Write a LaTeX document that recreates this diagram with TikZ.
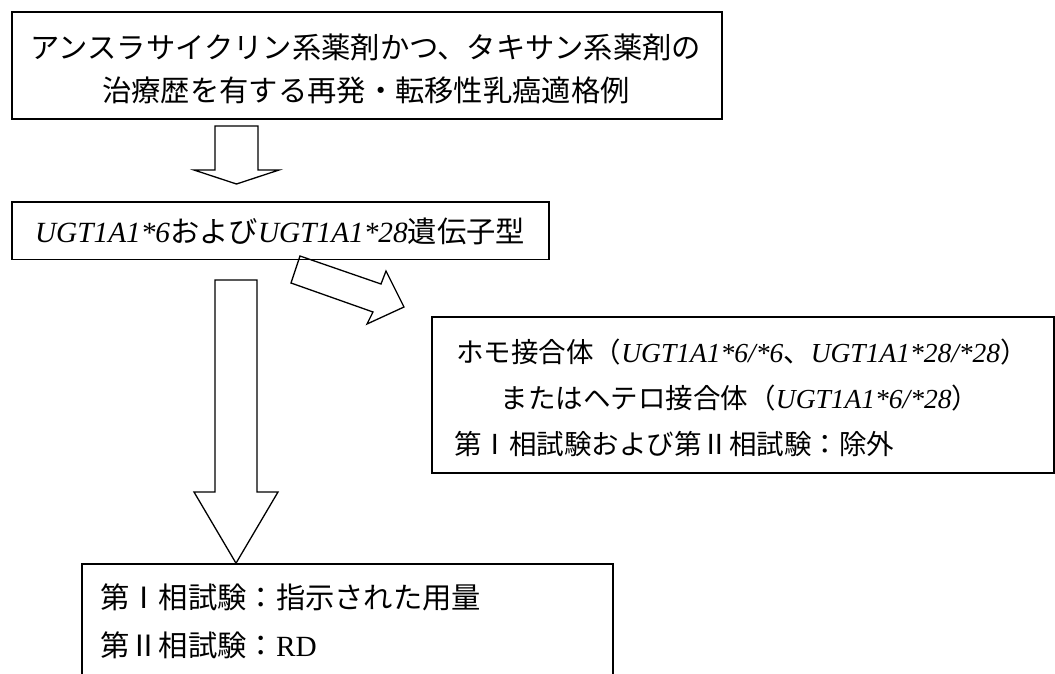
\documentclass[tikz,border=0pt]{standalone}
\usepackage{fontspec}
\setmainfont{Liberation Serif}
\newfontfamily\jp{Noto Sans CJK JP}
\begin{document}
\begin{tikzpicture}[x=1pt,y=-1pt,
  box/.style={draw, line width=1.6pt, inner sep=0pt},
  blk/.style={draw, line width=1.3pt, line join=miter},
  txt/.style={inner sep=0pt, font=\fontsize{29.3}{35}\selectfont},
  rtxt/.style={inner sep=0pt, font=\fontsize{27.5}{33}\selectfont}]
\useasboundingbox (0,0) rectangle (1055,673);
\clip (0,0) rectangle (1055,673);
% boxes
\node[box, minimum width=710pt, minimum height=107pt] (top) at (367,65.5) {};
\node[box, minimum width=537pt, minimum height=57.5pt] (ugt) at (280.5,230.75) {};
\node[box, minimum width=622pt, minimum height=156pt] (res) at (743,395) {};
\node[box, minimum width=531pt, minimum height=160pt] (dose) at (347.5,644) {};
% texts
\node[txt] (t1) at (366,47) {\jp アンスラサイクリン系薬剤かつ、タキサン系薬剤の};
\node[txt] (t2) at (366,90) {\jp 治療歴を有する再発・転移性乳癌適格例};
\node[txt] (g) at (280,231) {\textit{UGT1A1*6}{\jp および}\textit{UGT1A1*28}{\jp 遺伝子型}};
\node[rtxt] (r1) at (742,352) {{\jp ホモ接合体（}\textit{UGT1A1*6/*6}{\jp 、}\textit{UGT1A1*28/*28}{\jp ）}};
\node[rtxt] (r2) at (740,398) {{\jp またはヘテロ接合体（}\textit{UGT1A1*6/*28}{\jp ）}};
\node[rtxt, anchor=west] (r3) at (454,444) {\jp 第Ⅰ相試験および第Ⅱ相試験：除外};
\node[txt, anchor=west] (b1) at (100,597) {\jp 第Ⅰ相試験：指示された用量};
\node[txt, anchor=west] (b2) at (100,645) {{\jp 第Ⅱ相試験：}RD};
% block arrows
\coordinate (a1tip) at (236.5,184);
\draw[blk] (215,126) -- (258,126) -- (258,170) -- (279,170) -- (a1tip) -- (194,170) -- (215,170) -- cycle;
\coordinate (a2tip) at (dose.north -| 236,0);
\draw[blk] (215,280) -- (257,280) -- (257,492) -- (278,492) -- (a2tip) -- (194,492) -- (215,492) -- cycle;
\coordinate (a3tip) at (404,307);
\draw[blk] (300,256) -- (381,284) -- (386,271) -- (a3tip) -- (367,324) -- (373,312) -- (291,283) -- cycle;
\end{tikzpicture}
\end{document}
